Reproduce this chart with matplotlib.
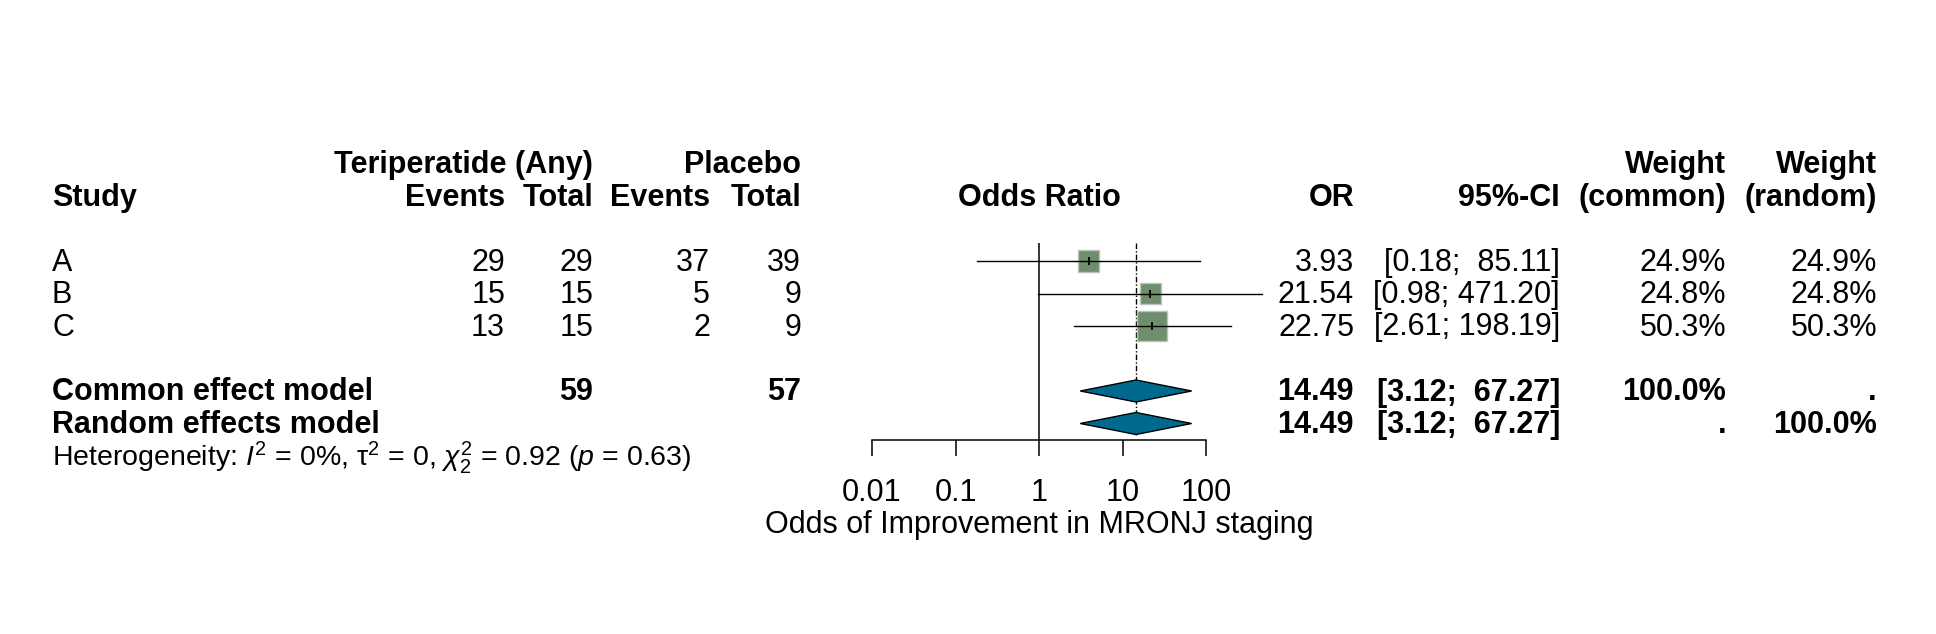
import matplotlib
matplotlib.use('Agg')
import matplotlib.pyplot as plt
import matplotlib.transforms as mtransforms
import numpy as np

# study level data
studies = ['A', 'B', 'C']
events_t = [29, 15, 13]
total_t = [29, 15, 15]
events_p = [37, 5, 2]
total_p = [39, 9, 9]
or_est = [3.93, 21.54, 22.75]
ci_lo = [0.18, 0.98, 2.61]
ci_hi = [85.11, 471.20, 198.19]
w_common = [24.9, 24.8, 50.3]
w_random = [24.9, 24.8, 50.3]

# pooled results
pooled_or = 14.49
pooled_lo = 3.12
pooled_hi = 67.27
sum_t = 59
sum_p = 57
het_text = (r'Heterogeneity: $I^2$ = 0%, $\mathrm{\tau}^2$ = 0, '
            r'$\chi^2_2$ = 0.92 ($p$ = 0.63)')

xticks = [0.01, 0.1, 1, 10, 100]
xtick_labels = ['0.01', '0.1', '1', '10', '100']
xlabel = 'Odds of Improvement in MRONJ staging'

plt.rcParams['font.family'] = ['Liberation Sans', 'DejaVu Sans']
plt.rcParams['mathtext.fontset'] = 'custom'
plt.rcParams['mathtext.rm'] = 'Liberation Sans'
plt.rcParams['mathtext.it'] = 'Liberation Sans:italic'
plt.rcParams['mathtext.bf'] = 'Liberation Sans:bold'

W, H = 1936, 634
FS = 22


def fx(px):
    return px / W


def fy(py):
    return 1 - py / H


def plot_forest():
    fig = plt.figure(figsize=(W / 100, H / 100), dpi=100)
    ax = fig.add_axes([fx(872), fy(440), fx(1206) - fx(872), (440 - 243) / H])

    # rows: A=1, B=2, C=3, common=5, random=6 ; 32.5 px per row, A at 261 px
    row_px = 32.5
    def r_of(py):
        return 1 + (py - 261) / row_px
    ax.set_xscale('log')
    ax.set_xlim(0.01, 100)
    ax.set_ylim(r_of(440), r_of(243))

    rows = [1, 2, 3]
    r_common = 5
    r_random = 6
    hd = 11 / row_px

    ax.axvline(1, color='black', lw=1.1)
    ax.plot([pooled_or, pooled_or], [r_of(243), r_random + hd], color='black',
            lw=1.0, linestyle=(0, (4, 1.5, 1, 1.5)), clip_on=False)

    sizes = [9.3 * w for w in w_common]
    ax.scatter(or_est, rows, s=sizes, marker='s', color='#6e8e6e',
               edgecolors='#b9c5b9', linewidths=1.0, zorder=3, clip_on=False)
    for r, lo, hi in zip(rows, ci_lo, ci_hi):
        ax.plot([lo, hi], [r, r], color='black', lw=1.0, zorder=4, clip_on=False)
    ax.plot(or_est, rows, '|', color='black', ms=6, mew=1.3, zorder=5, clip_on=False)

    for r in [r_common, r_random]:
        ax.fill([pooled_lo, pooled_or, pooled_hi, pooled_or],
                [r, r - hd, r, r + hd], facecolor='#006a8e',
                edgecolor='black', lw=1.0, zorder=3, clip_on=False)

    for s in ['top', 'left', 'right']:
        ax.spines[s].set_visible(False)
    ax.spines['bottom'].set_linewidth(1.1)
    ax.set_yticks([])
    ax.set_xticks(xticks)
    ax.set_xticklabels(xtick_labels)
    ax.minorticks_off()
    ax.tick_params(axis='x', length=11.5, width=1.1, pad=16, labelsize=FS)
    ax.set_xlabel(xlabel, fontsize=FS, labelpad=1)
    ax.patch.set_visible(False)

    tr = mtransforms.blended_transform_factory(fig.transFigure, ax.transData)
    boff = 9.5 / row_px

    def txt(px, r, s, ha='right', bold=False, size=FS):
        ax.text(fx(px), r + boff, s, transform=tr, ha=ha, va='baseline',
                fontsize=size, fontweight='bold' if bold else 'normal')

    # header
    txt(593, -2, 'Teriperatide (Any)', bold=True)
    txt(801, -2, 'Placebo', bold=True)
    txt(1726, -2, 'Weight', bold=True)
    txt(1877, -2, 'Weight', bold=True)
    txt(52, -1, 'Study', ha='left', bold=True)
    txt(505, -1, 'Events', bold=True)
    txt(593, -1, 'Total', bold=True)
    txt(710, -1, 'Events', bold=True)
    txt(801, -1, 'Total', bold=True)
    txt(1039, -1, 'Odds Ratio', ha='center', bold=True)
    txt(1354, -1, 'OR', bold=True)
    txt(1560, -1, '95%-CI', bold=True)
    txt(1726, -1, '(common)', bold=True)
    txt(1877, -1, '(random)', bold=True)

    for i, r in enumerate(rows):
        txt(52, r, studies[i], ha='left')
        txt(505, r, str(events_t[i]))
        txt(593, r, str(total_t[i]))
        txt(710, r, str(events_p[i]))
        txt(801, r, str(total_p[i]))
        txt(1354, r, f'{or_est[i]:.2f}')
        txt(1560, r, f'[{ci_lo[i]:.2f}; {ci_hi[i]:6.2f}]')
        txt(1726, r, f'{w_common[i]:.1f}%')
        txt(1877, r, f'{w_random[i]:.1f}%')

    pooled_ci = f'[{pooled_lo:.2f}; {pooled_hi:6.2f}]'
    txt(52, r_common, 'Common effect model', ha='left', bold=True)
    txt(593, r_common, str(sum_t), bold=True)
    txt(801, r_common, str(sum_p), bold=True)
    txt(1354, r_common, f'{pooled_or:.2f}', bold=True)
    txt(1560, r_common, pooled_ci, bold=True)
    txt(1726, r_common, '100.0%', bold=True)
    txt(1877, r_common, '.', bold=True)

    txt(52, r_random, 'Random effects model', ha='left', bold=True)
    txt(1354, r_random, f'{pooled_or:.2f}', bold=True)
    txt(1560, r_random, pooled_ci, bold=True)
    txt(1726, r_random, '.', bold=True)
    txt(1877, r_random, '100.0%', bold=True)

    txt(52, 7, het_text, ha='left', size=20.5)

    fig.savefig('out.png', dpi=100)
    plt.clf()


def main():
    plot_forest()


if __name__ == "__main__":
    main()
